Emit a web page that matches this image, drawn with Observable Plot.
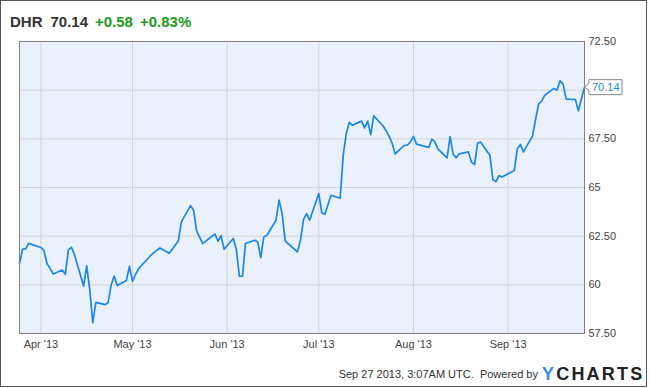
<!DOCTYPE html>
<html><head><meta charset="utf-8">
<script src="https://cdn.jsdelivr.net/npm/d3@7"></script>
<script src="https://cdn.jsdelivr.net/npm/@observablehq/plot@0.6"></script>
<style>
body{margin:0;background:#fff;font-family:"Liberation Sans",Arial,sans-serif;}
#wrap{position:relative;width:650px;height:388px;overflow:hidden;background:#fff;}
#chart{position:absolute;left:0;top:0;}
#border{position:absolute;left:0;top:0;width:647px;height:387px;box-sizing:border-box;border:1px solid #555;pointer-events:none;}
.t{position:absolute;top:14px;font-size:15px;line-height:15px;font-weight:bold;white-space:nowrap;}
#foot{position:absolute;left:300px;width:238px;text-align:right;top:368.7px;font-size:11px;line-height:11px;color:#333;white-space:nowrap;}
#logo{position:absolute;left:542px;top:364.7px;font-size:18px;line-height:18px;font-weight:bold;letter-spacing:2.2px;color:#222;white-space:nowrap;}
#logo span{color:#3b8de8;}
</style>
</head><body>
<div id="wrap">
  <div id="chart"></div>
  <div class="t" style="left:10px;color:#333">DHR</div>
  <div class="t" style="left:50.5px;color:#333">70.14</div>
  <div class="t" style="left:95px;color:#1c9b1c">+0.58</div>
  <div class="t" style="left:140px;color:#1c9b1c">+0.83%</div>
  <div id="foot">Sep 27 2013, 3:07AM UTC.&nbsp; Powered by</div>
  <div id="logo"><span>Y</span>CHARTS</div>
  <div id="border"></div>
</div>
<script>
const dates = ["2013-03-25","2013-03-26","2013-03-27","2013-03-28","2013-04-01","2013-04-02","2013-04-03","2013-04-04","2013-04-05","2013-04-08","2013-04-09","2013-04-10","2013-04-11","2013-04-12","2013-04-15","2013-04-16","2013-04-17","2013-04-18","2013-04-19","2013-04-22","2013-04-23","2013-04-24","2013-04-25","2013-04-26","2013-04-29","2013-04-30","2013-05-01","2013-05-02","2013-05-03","2013-05-06","2013-05-07","2013-05-08","2013-05-09","2013-05-10","2013-05-13","2013-05-14","2013-05-15","2013-05-16","2013-05-17","2013-05-20","2013-05-21","2013-05-22","2013-05-23","2013-05-24","2013-05-28","2013-05-29","2013-05-30","2013-05-31","2013-06-03","2013-06-04","2013-06-05","2013-06-06","2013-06-07","2013-06-10","2013-06-11","2013-06-12","2013-06-13","2013-06-14","2013-06-17","2013-06-18","2013-06-19","2013-06-20","2013-06-21","2013-06-24","2013-06-25","2013-06-26","2013-06-27","2013-06-28","2013-07-01","2013-07-02","2013-07-03","2013-07-05","2013-07-08","2013-07-09","2013-07-10","2013-07-11","2013-07-12","2013-07-15","2013-07-16","2013-07-17","2013-07-18","2013-07-19","2013-07-22","2013-07-23","2013-07-24","2013-07-25","2013-07-26","2013-07-29","2013-07-30","2013-07-31","2013-08-01","2013-08-02","2013-08-05","2013-08-06","2013-08-07","2013-08-08","2013-08-09","2013-08-12","2013-08-13","2013-08-14","2013-08-15","2013-08-16","2013-08-19","2013-08-20","2013-08-21","2013-08-22","2013-08-23","2013-08-26","2013-08-27","2013-08-28","2013-08-29","2013-08-30","2013-09-03","2013-09-04","2013-09-05","2013-09-06","2013-09-09","2013-09-10","2013-09-11","2013-09-12","2013-09-13","2013-09-16","2013-09-17","2013-09-18","2013-09-19","2013-09-20","2013-09-23","2013-09-24","2013-09-25","2013-09-26"];
const closes = [61.09,61.83,61.84,62.13,61.92,61.76,61.09,60.85,60.56,60.76,60.54,61.79,61.93,61.55,59.94,60.97,59.75,58.06,59.10,58.98,59.09,59.99,60.45,59.96,60.22,60.95,60.18,60.54,60.83,61.34,61.52,61.65,61.78,61.89,61.62,61.83,62.04,62.25,63.23,64.07,63.83,62.77,62.44,62.12,62.61,62.24,62.53,61.83,62.38,61.81,60.44,60.44,62.12,62.29,62.20,61.40,62.46,62.55,63.32,64.35,63.66,62.25,62.11,61.69,62.29,63.35,63.66,63.32,64.69,63.69,63.63,64.60,64.45,66.66,67.77,68.34,68.20,68.41,68.06,68.41,67.72,68.68,68.17,67.93,67.64,67.28,66.73,67.17,67.17,67.34,67.63,67.23,67.10,67.06,67.48,67.34,66.98,66.52,67.62,66.70,66.52,66.73,66.83,66.30,66.18,67.28,67.33,66.66,65.41,65.29,65.62,65.54,65.87,66.98,67.21,66.83,67.65,68.52,69.30,69.44,69.74,70.09,70.00,70.48,70.31,69.54,69.52,68.94,69.56,70.14];
const xDomain = ["2013-03-25","2013-09-26"];
const xTicks = ["2013-04-01","2013-05-01","2013-06-01","2013-07-01","2013-08-01","2013-09-01"];
const xTickLabels = ["Apr '13","May '13","Jun '13","Jul '13","Aug '13","Sep '13"];
const yTicks = [57.5,60,62.5,65,67.5,70,72.5];
const yTickLabels = ["57.50","60","62.50","65","67.50","","72.50"];
const lastLabel = "70.14";

const data = dates.map((d,i)=>({date:new Date(d+"T00:00:00Z"), close:closes[i]}));
const xT = xTicks.map(d=>new Date(d+"T00:00:00Z"));
const xLab = new Map(xT.map((d,i)=>[+d, xTickLabels[i]]));
const yLab = new Map(yTicks.map((v,i)=>[v, yTickLabels[i]]));

const lineColor = "#1a88e8";
const chart = Plot.plot({
  width: 650, height: 360,
  marginLeft: 19, marginRight: 66, marginTop: 41, marginBottom: 27,
  style: {fontFamily: '"Liberation Sans", Arial, sans-serif', fontSize: "11px", background: "transparent", color: "#444"},
  x: {type: "utc", domain: xDomain.map(d=>new Date(d+"T00:00:00Z"))},
  y: {domain: [57.5, 72.5]},
  marks: [
    Plot.frame({fill: "#eaf1fc", stroke: null}),
    Plot.gridX(xT, {stroke: "#d5d5d5", strokeOpacity: 1}),
    Plot.gridY(yTicks, {stroke: "#d5d5d5", strokeOpacity: 1}),
    Plot.line(data, {x: "date", y: "close", stroke: lineColor, strokeWidth: 1.7}),
    Plot.frame({stroke: "#808080"}),
    Plot.axisX(xT, {tickSize: 0, tickPadding: 7, tickFormat: d => xLab.get(+d), fill: "#444", label: null}),
    Plot.axisY(yTicks, {anchor: "right", tickSize: 0, tickPadding: 4, tickFormat: d => yLab.get(d), fill: "#444", label: null})
  ]
});
document.getElementById("chart").appendChild(chart);

// callout for the last value
const last = data[data.length-1];
const px = chart.scale("x").apply(last.date);
const py = chart.scale("y").apply(last.close);
const g = d3.select(chart).append("g");
const bl = px + 5, br = px + 38, bt = py - 7.3, bb = py + 7.7;
g.append("path")
  .attr("d", `M${px+0.5},${py}L${bl},${py-3.5}V${bt}H${br}V${bb}H${bl}V${py+3.5}Z`)
  .attr("fill", "#fff").attr("stroke", "#888").attr("stroke-width", 1);
g.append("text").attr("x", px + 8).attr("y", py).attr("dy", "0.36em")
  .attr("text-anchor", "start")
  .attr("fill", lineColor).attr("font-size", 11).text(lastLabel);
</script>
</body></html>
